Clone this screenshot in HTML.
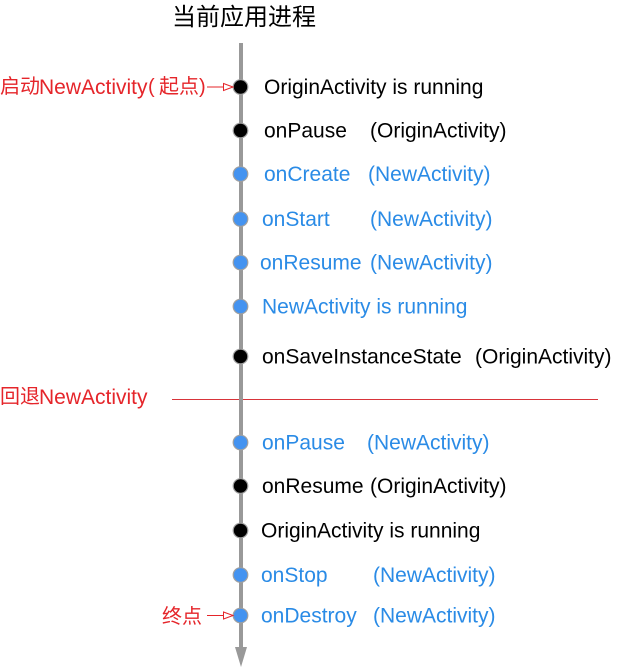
<!DOCTYPE html>
<html><head><meta charset="utf-8"><style>
html,body{margin:0;padding:0;background:#fff;}
svg{display:block;}
text{font-family:"Liberation Sans","Noto Sans CJK SC",sans-serif;}
.k{fill:#000;font-size:21px;}
.b{fill:#2a8be6;font-size:21px;}
.r{fill:#e5252a;}
</style></head><body>
<svg width="628" height="668" viewBox="0 0 628 668" xmlns="http://www.w3.org/2000/svg">
<rect width="628" height="668" fill="#fff"/>
<!-- title -->
<text x="172" y="25" font-size="24" fill="#000">当前应用进程</text>
<!-- separator -->
<line x1="172" y1="399.5" x2="598" y2="399.5" stroke="#d8343a" stroke-width="1"/>
<!-- vertical line -->
<rect x="239" y="43" width="4" height="606" fill="#999"/>
<polygon points="235,647 247,647 241,667" fill="#999"/>
<!-- dots -->
<g stroke="#a0a0a0" stroke-width="1.2">
<circle cx="240.5" cy="87" r="7.3" fill="#000"/>
<circle cx="240.5" cy="130.5" r="7.3" fill="#000"/>
<circle cx="240.5" cy="174" r="7.3" fill="#4493f0"/>
<circle cx="240.5" cy="219" r="7.3" fill="#4493f0"/>
<circle cx="240.5" cy="262.5" r="7.3" fill="#4493f0"/>
<circle cx="240.5" cy="306.5" r="7.3" fill="#4493f0"/>
<circle cx="240.5" cy="356.5" r="7.3" fill="#000"/>
<circle cx="240.5" cy="442.5" r="7.3" fill="#4493f0"/>
<circle cx="240.5" cy="486" r="7.3" fill="#000"/>
<circle cx="240.5" cy="530.5" r="7.3" fill="#000"/>
<circle cx="240.5" cy="575" r="7.3" fill="#4493f0"/>
<circle cx="240.5" cy="615.5" r="7.3" fill="#4493f0"/>
</g>
<!-- labels -->
<text class="k" x="264" y="94">OriginActivity is running</text>
<text class="k" x="264" y="137.5">onPause</text><text class="k" x="370" y="137.5">(OriginActivity)</text>
<text class="b" x="264" y="181">onCreate</text><text class="b" x="368" y="181">(NewActivity)</text>
<text class="b" x="262" y="226">onStart</text><text class="b" x="370" y="226">(NewActivity)</text>
<text class="b" x="260" y="269.5">onResume</text><text class="b" x="370" y="269.5">(NewActivity)</text>
<text class="b" x="262" y="313.5">NewActivity is running</text>
<text class="k" x="262" y="363.5">onSaveInstanceState</text><text class="k" x="475" y="363.5">(OriginActivity)</text>
<text class="b" x="262" y="449.5">onPause</text><text class="b" x="367" y="449.5">(NewActivity)</text>
<text class="k" x="262" y="493">onResume</text><text class="k" x="370" y="493">(OriginActivity)</text>
<text class="k" x="261" y="537.5">OriginActivity is running</text>
<text class="b" x="261" y="582">onStop</text><text class="b" x="373" y="582">(NewActivity)</text>
<text class="b" x="261" y="622.5">onDestroy</text><text class="b" x="373" y="622.5">(NewActivity)</text>
<!-- red annotations -->
<text class="r" x="0" y="93" font-size="20">启动</text>
<text class="r" x="39" y="94" font-size="21">NewActivity</text>
<text class="r" x="148" y="93" font-size="20">(</text>
<text class="r" x="159" y="93" font-size="20">起点</text>
<text class="r" x="199" y="93" font-size="20">)</text>
<line x1="207" y1="87" x2="224" y2="87" stroke="#e5252a" stroke-width="1"/>
<polygon points="223.5,83.5 233,87 223.5,90.5" fill="none" stroke="#e5252a" stroke-width="1"/>
<text class="r" x="0" y="403" font-size="20">回退</text>
<text class="r" x="39" y="404" font-size="21">NewActivity</text>
<text class="r" x="162" y="623" font-size="20">终点</text>
<line x1="207" y1="615.5" x2="224" y2="615.5" stroke="#e5252a" stroke-width="1"/>
<polygon points="223.5,612 233,615.5 223.5,619" fill="none" stroke="#e5252a" stroke-width="1"/>
</svg>
</body></html>
